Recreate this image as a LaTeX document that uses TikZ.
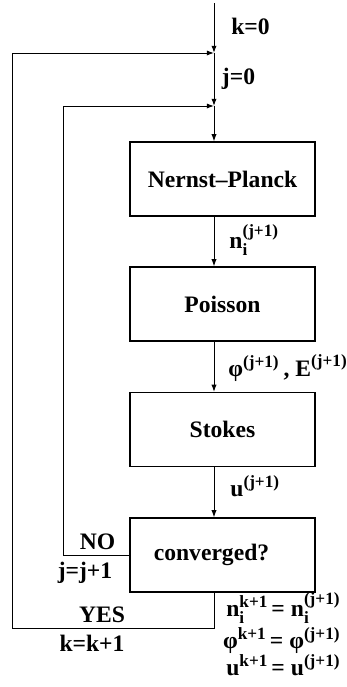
\documentclass[tikz,border=0pt]{standalone}
\usepackage{amsmath}
\usepackage{fontspec}
\setmainfont{Liberation Serif}
\usetikzlibrary{arrows.meta}
\DeclareMathSizes{11.8}{11.8}{8.6}{6.5}
\newcommand{\eqsign}{\hspace{1.5pt}=\hspace{3pt}}
\begin{document}
\begin{tikzpicture}[x=0.5pt,y=-0.5pt,
    every node/.style={font=\fontsize{11.8}{14}\selectfont\bfseries},
    box/.style={draw,line width=0.6pt,minimum width=92.5pt,minimum height=37pt},
    lbl/.style={inner sep=0pt},
    eq/.style={inner sep=0pt,anchor=base east},
    flow/.style={line width=0.5pt,-{Latex[length=3.6pt,width=2.6pt]}}]
  \useasboundingbox (0,0) rectangle (347,687);
  \coordinate (start) at (214,3);
  \coordinate (kin) at (214,53);
  \coordinate (jin) at (214,106);
  \coordinate (kcorner) at (12,628);
  \coordinate (jcorner) at (63,106);
  \draw
    (222.5,179) node[box] (np){Nernst--Planck}
    (222.5,304) node[box] (pois){Poisson}
    (222.5,429.5) node[box] (stokes){Stokes}
    (222.5,555) node[box] (conv){\hspace*{-11pt}converged?};
  % labels
  \draw
    (250.5,26) node[lbl] (k0){k=0}
    (238.5,79) node[lbl] (j0){j=0}
    (229,240) node[lbl,anchor=west] (nlab){$\text{n}_{\text{i}}^{\text{(j+1)}}$}
    (228,368) node[lbl,anchor=west] (phlab){$\text{φ}^{\text{(j+1)}}$\,, $\text{E}^{\text{(j+1)}}$}
    (230,486) node[lbl,anchor=west] (ulab){$\text{u}^{\text{(j+1)}}$}
    (97.5,541.5) node[lbl] (no){NO}
    (85,573) node[lbl] (jinc){j=j+1}
    (102,615) node[lbl] (yes){YES}
    (92,643) node[lbl] (kinc){k=k+1};
  % updates
  \draw
    (341,616) node[eq] (nupd){$\text{n}_{\text{i}}^{\text{k+1}}$\eqsign$\text{n}_{\text{i}}^{\text{(j+1)}}$}
    (341,648) node[eq] (phupd){$\text{φ}^{\text{k+1}}$\eqsign$\text{φ}^{\text{(j+1)}}$}
    (341,675) node[eq] (uupd){$\text{u}^{\text{k+1}}$\eqsign$\text{u}^{\text{(j+1)}}$};
  \begin{scope}[flow]
    \draw (start) to (kin);
    \draw (kin) to (jin);
    \draw (jin) to (np.north -| jin);
    \draw (np.south -| jin) to (pois.north -| jin);
    \draw (pois.south -| jin) to (stokes.north -| jin);
    \draw (stokes.south -| jin) to (conv.north -| jin);
    \draw (conv.west) -| (jcorner) -- (jin);
    \draw (conv.south -| kin) |- (kcorner) |- (kin);
  \end{scope}
\end{tikzpicture}
\end{document}
